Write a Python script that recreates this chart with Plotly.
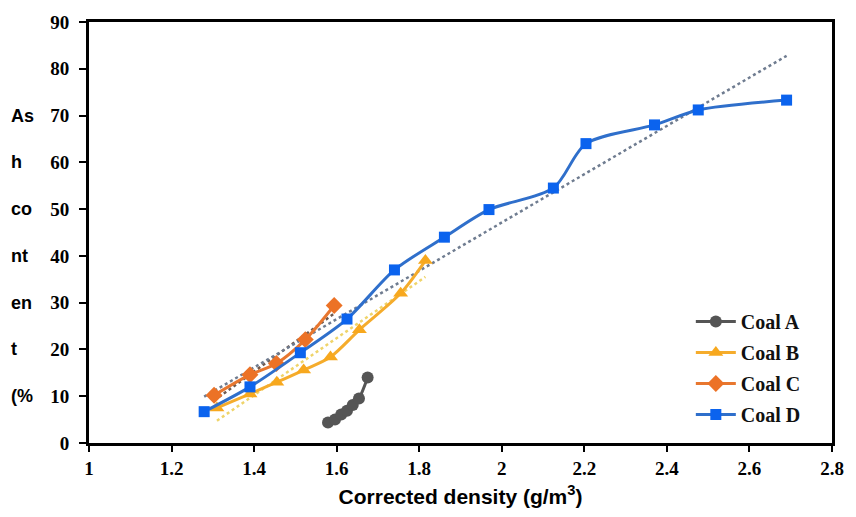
import numpy as np
import plotly.graph_objects as go

# ---- data ----
coal_a_x = [1.579, 1.596, 1.611, 1.625, 1.639, 1.654, 1.675]
coal_a_y = [4.4, 5.0, 6.1, 6.9, 8.1, 9.5, 14.0]

coal_b_x = [1.31, 1.39, 1.455, 1.52, 1.585, 1.655, 1.755, 1.815]
coal_b_y = [7.5, 10.5, 13.0, 15.6, 18.4, 24.2, 32.0, 39.0]

coal_c_x = [1.303, 1.39, 1.454, 1.524, 1.594]
coal_c_y = [10.2, 14.6, 17.0, 22.1, 29.4]

coal_d_x = [1.279, 1.39, 1.512, 1.625, 1.74, 1.861, 1.969, 2.125, 2.204, 2.37, 2.476, 2.69]
coal_d_y = [6.7, 12.0, 19.3, 26.5, 37.0, 44.0, 49.9, 54.5, 64.0, 68.0, 71.2, 73.3]

series_names = ["Coal A", "Coal B", "Coal C", "Coal D"]
x_ticks = [1, 1.2, 1.4, 1.6, 1.8, 2, 2.2, 2.4, 2.6, 2.8]
y_ticks = [0, 10, 20, 30, 40, 50, 60, 70, 80, 90]
y_title_pieces = ["As", "h", "co", "nt", "en", "t", "(%"]
y_title_levels = [70, 60, 50, 40, 30, 20, 10]
x_title = "<b>Corrected density (g/m<sup>3</sup>)</b>"

fig = go.Figure()

styles = [
    dict(x=coal_a_x, y=coal_a_y, line="#555555", marker="#555555", symbol="circle", size=12),
    dict(x=coal_b_x, y=coal_b_y, line="#F5AC2C", marker="#F7A81E", symbol="triangle-up", size=13),
    dict(x=coal_c_x, y=coal_c_y, line="#E8772F", marker="#EC7226", symbol="diamond", size=13),
    dict(x=coal_d_x, y=coal_d_y, line="#2F6FCB", marker="#0B63EE", symbol="square", size=11),
]

# trend lines (linear fit) for coals B, C, D
trend_colors = {1: "#EFD46A", 2: "#6E5A50", 3: "#6F7C90"}
for i, col in trend_colors.items():
    sx = np.array(styles[i]["x"])
    sy = np.array(styles[i]["y"])
    k, b = np.polyfit(sx, sy, 1)
    tx = np.array([sx.min(), sx.max()])
    fig.add_trace(go.Scatter(
        x=tx, y=k * tx + b, mode="lines", showlegend=False, hoverinfo="skip",
        line=dict(color=col, width=2.5, dash="dot"),
    ))

for name, s in zip(series_names, styles):
    fig.add_trace(go.Scatter(
        x=s["x"], y=s["y"], name=name, legendgroup=name,
        mode="lines+markers",
        line=dict(color=s["line"], width=3, shape="spline", smoothing=0.8),
        marker=dict(color=s["marker"], symbol=s["symbol"], size=s["size"]),
    ))

for txt, lvl in zip(y_title_pieces, y_title_levels):
    fig.add_annotation(
        text=txt, xref="paper", yref="y", x=-0.108, y=lvl,
        xanchor="left", yanchor="middle", showarrow=False,
        font=dict(family="Liberation Sans", size=18, color="black", weight="bold"),
    )

fig.update_layout(
    width=856, height=517,
    margin=dict(l=89, r=18, t=12, b=74),
    paper_bgcolor="white", plot_bgcolor="white",
    xaxis=dict(
        range=[1, 2.8], tickvals=x_ticks,
        tickfont=dict(family="Liberation Serif", size=19, color="black", weight="bold"),
        showgrid=False, zeroline=False, showline=True, mirror=True,
        linecolor="black", linewidth=3, ticks="outside", ticklen=6,
        tickcolor="black", tickwidth=1.5,
        title=dict(text=x_title, font=dict(family="Liberation Sans", size=21, color="black"),
                   standoff=12),
    ),
    yaxis=dict(
        range=[0, 90], tickvals=y_ticks,
        tickfont=dict(family="Liberation Serif", size=19, color="black", weight="bold"),
        showgrid=False, zeroline=False, showline=True, mirror=True,
        linecolor="black", linewidth=3, ticks="outside", ticklen=7,
        tickcolor="black", tickwidth=1.5, ticklabelstandoff=6,
    ),
    showlegend=True,
    legend=dict(
        x=0.81, y=0.335, xanchor="left", yanchor="top",
        traceorder="grouped", tracegroupgap=2,
        font=dict(family="Liberation Serif", size=20, color="#111111", weight="bold"),
        bgcolor="rgba(0,0,0,0)", itemwidth=40,
    ),
)

fig.write_html("out.html")
